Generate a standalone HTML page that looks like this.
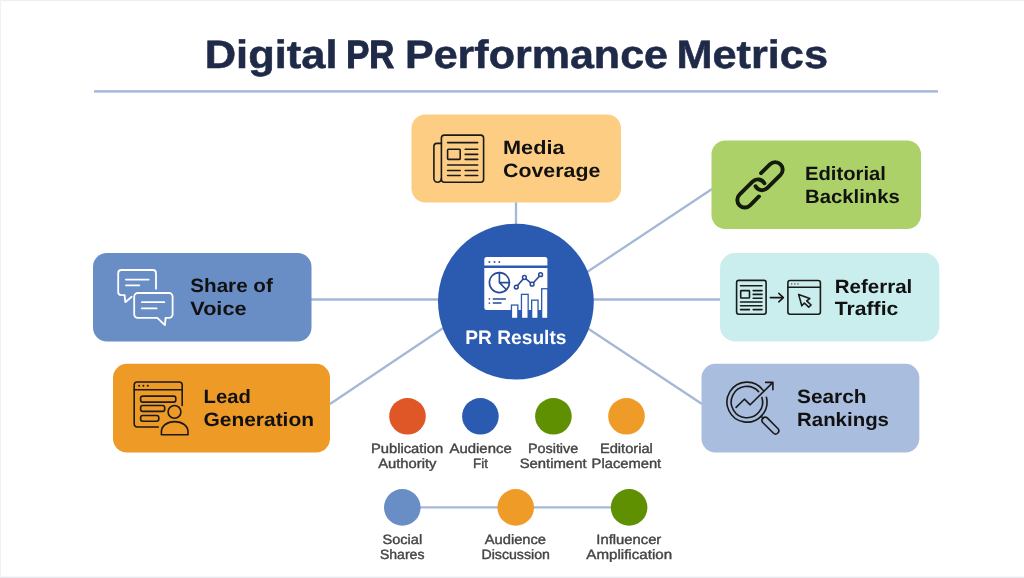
<!DOCTYPE html>
<html>
<head>
<meta charset="utf-8">
<title>Digital PR Performance Metrics</title>
<style>
  html, body { margin: 0; padding: 0; background: #ffffff; }
  body { width: 1024px; height: 578px; overflow: hidden; font-family: "Liberation Sans", sans-serif; }
  svg { display: block; filter: blur(0.45px); }
  text { font-family: "Liberation Sans", sans-serif; text-rendering: geometricPrecision; }
  .title { font-weight: 700; font-size: 39.6px; fill: #1f2a48; stroke: #1f2a48; stroke-width: 0.55px; stroke-linejoin: round; }
  .card { font-weight: 700; font-size: 19.2px; fill: #111111; }
  .lbl { font-weight: 400; font-size: 13.5px; fill: #454545; text-anchor: middle; stroke: #454545; stroke-width: 0.4px; }
  .ico { fill: none; stroke: #1a1a1a; stroke-width: 1.6; stroke-linecap: round; stroke-linejoin: round; }
</style>
</head>
<body>
<svg width="1024" height="578" viewBox="0 0 1024 578">
  <rect x="0" y="0" width="1024" height="578" fill="#ffffff"/>
  <!-- faint frame -->
  <rect x="0" y="0" width="1024" height="1.2" fill="#eef0f5"/>
  <rect x="0" y="0" width="1.1" height="578" fill="#eff1f6"/>
  <rect x="0" y="576.7" width="1024" height="1.3" fill="#e6e8ee"/>

  <!-- TITLE -->
  <g class="title">
    <text x="204.7" y="68.3" textLength="132.8" lengthAdjust="spacingAndGlyphs">Digital</text>
    <text x="346.2" y="68.3" textLength="48.2" lengthAdjust="spacingAndGlyphs" stroke-width="1.1">PR</text>
    <text x="405" y="68.3" textLength="263" lengthAdjust="spacingAndGlyphs">Performance</text>
    <text x="676.4" y="68.3" textLength="151.6" lengthAdjust="spacingAndGlyphs">Metrics</text>
  </g>
  <rect x="94" y="90.2" width="844" height="2.4" fill="#a2b6d6"/>

  <!-- CONNECTORS -->
  <g stroke="#a4b8d8" stroke-width="2.3" fill="none">
    <line x1="516" y1="200" x2="516" y2="230"/>
    <line x1="311" y1="299.5" x2="721" y2="299.5"/>
    <line x1="712" y1="189" x2="560" y2="290"/>
    <line x1="702" y1="404" x2="560" y2="310"/>
    <line x1="330" y1="404" x2="470" y2="310"/>
    <line x1="402" y1="507.3" x2="629" y2="507.3"/>
  </g>

  <!-- CENTER CIRCLE -->
  <circle cx="515.9" cy="301.6" r="77.9" fill="#2b5bb0"/>

  <!-- CARDS -->
  <rect x="411.5" y="114.5" width="209.5" height="88" rx="14" fill="#fdcd83"/>
  <rect x="711.5" y="140.5" width="209.5" height="88.5" rx="14" fill="#acd168"/>
  <rect x="720" y="253" width="219.3" height="88.5" rx="15" fill="#caeeed"/>
  <rect x="701.5" y="363.8" width="217.8" height="88.7" rx="14" fill="#a9bdde"/>
  <rect x="93" y="253" width="218.5" height="88.5" rx="14" fill="#698dc5"/>
  <rect x="113" y="363.8" width="217" height="88.7" rx="14" fill="#ee9a26"/>

  <!-- CARD TEXT -->
  <g class="card" transform="translate(0 0.3)">
    <text x="503.0" y="154" textLength="61.5" lengthAdjust="spacingAndGlyphs">Media</text>
    <text x="503.0" y="176.5" textLength="97.3" lengthAdjust="spacingAndGlyphs">Coverage</text>

    <text x="805.0" y="179.8" textLength="81.0" lengthAdjust="spacingAndGlyphs">Editorial</text>
    <text x="805.0" y="202.3" textLength="94.8" lengthAdjust="spacingAndGlyphs">Backlinks</text>

    <text x="834.8" y="292.3" textLength="77.5" lengthAdjust="spacingAndGlyphs">Referral</text>
    <text x="834.8" y="315" textLength="63.5" lengthAdjust="spacingAndGlyphs">Traffic</text>

    <text x="797.0" y="403" textLength="69.5" lengthAdjust="spacingAndGlyphs">Search</text>
    <text x="797.0" y="425.8" textLength="92.0" lengthAdjust="spacingAndGlyphs">Rankings</text>

    <text x="190.3" y="292" textLength="82.5" lengthAdjust="spacingAndGlyphs">Share of</text>
    <text x="190.3" y="314.8" textLength="56.2" lengthAdjust="spacingAndGlyphs">Voice</text>

    <text x="203.5" y="403" textLength="47.3" lengthAdjust="spacingAndGlyphs">Lead</text>
    <text x="203.5" y="425.8" textLength="110.5" lengthAdjust="spacingAndGlyphs">Generation</text>
  </g>
  <text x="465.3" y="343.8" textLength="101.2" lengthAdjust="spacingAndGlyphs" font-weight="700" font-size="19.5" fill="#ffffff">PR Results</text>

  <!-- SMALL CIRCLES -->
  <circle cx="407.5" cy="416.3" r="18.3" fill="#df5726"/>
  <circle cx="480.4" cy="416.3" r="18.3" fill="#2b5bb0"/>
  <circle cx="553.4" cy="416.3" r="18.3" fill="#5e9002"/>
  <circle cx="626.5" cy="416.3" r="18.3" fill="#ee9b27"/>

  <circle cx="402.3" cy="507.4" r="18.3" fill="#698dc5"/>
  <circle cx="515.7" cy="507.4" r="18.3" fill="#ee9b27"/>
  <circle cx="629.1" cy="507.4" r="18.3" fill="#5e9002"/>

  <!-- SMALL LABELS -->
  <g class="lbl" transform="translate(0 0.2)">
    <text x="407" y="453.1" textLength="72.2" lengthAdjust="spacingAndGlyphs">Publication</text>
    <text x="407.3" y="468" textLength="58.3" lengthAdjust="spacingAndGlyphs">Authority</text>
    <text x="480.6" y="453.1" textLength="62.2" lengthAdjust="spacingAndGlyphs">Audience</text>
    <text x="480.5" y="468" textLength="14.8" lengthAdjust="spacingAndGlyphs">Fit</text>
    <text x="553.1" y="453.1" textLength="50.3" lengthAdjust="spacingAndGlyphs">Positive</text>
    <text x="553.1" y="468" textLength="66.9" lengthAdjust="spacingAndGlyphs">Sentiment</text>
    <text x="626.4" y="453.1" textLength="53.0" lengthAdjust="spacingAndGlyphs">Editorial</text>
    <text x="626.4" y="468" textLength="69.6" lengthAdjust="spacingAndGlyphs">Placement</text>

    <text x="402.3" y="544.0" textLength="39.7" lengthAdjust="spacingAndGlyphs">Social</text>
    <text x="402.2" y="559.3" textLength="44.6" lengthAdjust="spacingAndGlyphs">Shares</text>
    <text x="515.4" y="544.0" textLength="61.3" lengthAdjust="spacingAndGlyphs">Audience</text>
    <text x="515.7" y="559.3" textLength="68.5" lengthAdjust="spacingAndGlyphs">Discussion</text>
    <text x="628.8" y="544.0" textLength="65.0" lengthAdjust="spacingAndGlyphs">Influencer</text>
    <text x="629.2" y="559.3" textLength="85.8" lengthAdjust="spacingAndGlyphs">Amplification</text>
  </g>

  <!-- ICONS -->
  <!-- ICON: newspaper (Media Coverage) -->
  <g class="ico" stroke-width="1.9" stroke="#1c1712">
    <rect x="441.4" y="135.1" width="42.2" height="47.2" rx="3"/>
    <path d="M441.4 143.4 H436.9 A3 3 0 0 0 433.9 146.4 V178.5 A3.75 3.75 0 0 0 441.4 178.5"/>
    <path d="M447.6 142.6 H477.7 M465.2 149.3 H477.7 M465.2 154.4 H477.7 M465.2 159.4 H477.7 M447.6 165 H477.7 M447.6 170.5 H460.2 M465.2 170.5 H477.7 M447.6 175.5 H460.2 M465.2 175.5 H477.7"/>
    <rect x="447.6" y="149.3" width="12.6" height="10.1" rx="0.8"/>
  </g>

  <!-- ICON: chain link (Editorial Backlinks) -->
  <g transform="translate(760 184.8) rotate(-45)" fill="none" stroke="#141a0c" stroke-width="3.9" stroke-linecap="round" stroke-linejoin="round">
    <path d="M9 -7.5 L21.5 -7.5 A7.5 7.5 0 0 1 21.5 7.5 L3 7.5 A7.5 7.5 0 0 1 -4.2 -2.1"/>
    <path d="M-9 7.5 L-21.5 7.5 A7.5 7.5 0 0 1 -21.5 -7.5 L-3 -7.5 A7.5 7.5 0 0 1 4.2 2.1"/>
  </g>

  <!-- ICON: doc -> browser (Referral Traffic) -->
  <g class="ico" stroke-width="1.45" stroke="#30383a">
    <rect x="736.6" y="280.4" width="29.5" height="33.8" rx="2.2"/>
    <path d="M740.5 285.7 H762 M753.2 290.6 H762 M753.2 294.4 H762 M753.2 298.2 H762 M740.5 302 H762 M740.5 305.8 H762 M740.5 309.6 H749.5 M753.2 309.6 H762"/>
    <rect x="740.7" y="290.6" width="8.8" height="7.4" rx="0.6"/>
    <path d="M770.3 297.6 H783.2 M778.8 293.4 L783.4 297.6 L778.8 301.8"/>
    <rect x="787.9" y="280.5" width="32.5" height="33.7" rx="2.2"/>
    <path d="M787.9 287.3 H820.4"/>
    <path d="M798.6 294.4 L809.8 298.6 L806.7 300.8 L811.1 305 L808.7 307.1 L804.4 303 L801.8 305.8 Z"/>
  </g>
  <g fill="#30383a">
    <circle cx="791.7" cy="283.9" r="0.7"/><circle cx="794.8" cy="283.9" r="0.7"/><circle cx="798" cy="283.9" r="0.7"/>
  </g>

  <!-- ICON: magnifier + arrow (Search Rankings) -->
  <g class="ico" stroke-width="1.7" stroke="#15181f">
    <path d="M763.2 390.4 A20 20 0 1 0 766.4 397.3"/>
    <path d="M758.6 391.6 A15.7 15.7 0 1 0 761.9 397.4"/>
    <path d="M736.1 407.4 L744.4 399.2 L750.2 404.8 L772.9 382.4 M765.6 382.4 H772.9 V389.8"/>
    <path d="M761.1 416.3 L763.2 418.4"/>
    <rect x="-10.5" y="-3.2" width="21" height="6.4" rx="3.2" transform="translate(770.4 425.6) rotate(45)"/>
  </g>

  <!-- ICON: chat bubbles (Share of Voice) -->
  <g fill="none" stroke="#ffffff" stroke-width="1.8" stroke-linecap="round" stroke-linejoin="round">
    <path d="M156 288.8 V273.2 A3.2 3.2 0 0 0 152.8 270 H121.4 A3.2 3.2 0 0 0 118.2 273.2 V292 A3.2 3.2 0 0 0 121.4 295.2 H124.6 L125.3 302.2 L131.7 296.8"/>
    <path d="M125.9 279.6 H148.7 M125.9 285.3 H139.3"/>
    <path d="M137.7 293 H169.1 A3.5 3.5 0 0 1 172.6 296.5 V314.3 A3.5 3.5 0 0 1 169.1 317.8 H165.6 L164.9 325.2 L157.3 317.8 H137.7 A3.5 3.5 0 0 1 134.2 314.3 V296.5 A3.5 3.5 0 0 1 137.7 293 Z"/>
    <path d="M141.9 302.2 H164.3 M141.9 308.4 H156.6"/>
  </g>

  <!-- ICON: form + person (Lead Generation) -->
  <g class="ico" stroke-width="1.8" stroke="#20160a">
    <path d="M182.2 405.5 V385 A3 3 0 0 0 179.2 382 H137.2 A3 3 0 0 0 134.2 385 V424 A3 3 0 0 0 137.2 427 H158.3"/>
    <path d="M134.2 389.7 H182.2"/>
    <rect x="140.6" y="396.1" width="35.2" height="6" rx="2.2"/>
    <rect x="140.6" y="405.5" width="24.1" height="5.9" rx="2.2"/>
    <rect x="140.6" y="415.5" width="18.2" height="5.8" rx="2.2"/>
    <circle cx="174.5" cy="411.9" r="6.4"/>
    <path d="M161.4 434.7 V431.5 C161.4 426 167 421.6 174.7 421.6 C182.4 421.6 188 426 188 431.5 V434.7 Z"/>
  </g>
  <g fill="#20160a">
    <circle cx="139.1" cy="385.8" r="1"/><circle cx="143.4" cy="385.8" r="1"/><circle cx="147.8" cy="385.8" r="1"/>
  </g>

  <!-- ICON: dashboard (PR Results) -->
  <g>
    <path d="M484.3 265.6 V259.5 A2.5 2.5 0 0 1 486.8 257 H544.9 A2.5 2.5 0 0 1 547.4 259.5 V265.6 Z" fill="#ffffff"/>
    <path d="M484.3 267.9 H547.4 V307.4 A2.5 2.5 0 0 1 544.9 309.9 H486.8 A2.5 2.5 0 0 1 484.3 307.4 Z" fill="#ffffff"/>
    <g fill="#2b5bb0">
      <circle cx="489.4" cy="261.9" r="1"/><circle cx="494.5" cy="261.9" r="1"/><circle cx="499.3" cy="261.9" r="1"/>
      <circle cx="489.4" cy="298.9" r="0.9"/><circle cx="489.4" cy="303.1" r="0.9"/>
    </g>
    <g fill="none" stroke="#274a96" stroke-width="1.6" stroke-linecap="round" stroke-linejoin="round">
      <circle cx="499.4" cy="282.6" r="10"/>
      <path d="M499.4 272.6 V282.6 H509.4 M499.4 282.6 L506.5 289.7"/>
      <path d="M516.3 287.1 L524.4 277.5 L532.1 284.2 L540.6 274.7"/>
      <path d="M493.3 298.9 H505.4 M493.3 303.1 H501" stroke-width="1.5"/>
    </g>
    <g fill="#ffffff" stroke="#274a96" stroke-width="1.5">
      <circle cx="516.3" cy="287.1" r="1.9"/><circle cx="524.4" cy="277.5" r="1.9"/><circle cx="532.1" cy="284.2" r="1.9"/><circle cx="540.6" cy="274.7" r="1.9"/>
    </g>
    <g fill="#2b5bb0">
      <rect x="510.8" y="304.4" width="7.7" height="14"/>
      <rect x="520.8" y="293.7" width="8" height="25"/>
      <rect x="531" y="299.5" width="7.7" height="19"/>
      <rect x="541" y="288.1" width="7.5" height="30"/>
    </g>
    <g fill="#ffffff">
      <rect x="512.1" y="305.7" width="5.1" height="12.1"/>
      <rect x="522.1" y="295" width="5.4" height="22.8"/>
      <rect x="532.3" y="300.8" width="5.1" height="17"/>
      <rect x="542.3" y="289.4" width="4.9" height="28.4"/>
    </g>
  </g>
</svg>
</body>
</html>
